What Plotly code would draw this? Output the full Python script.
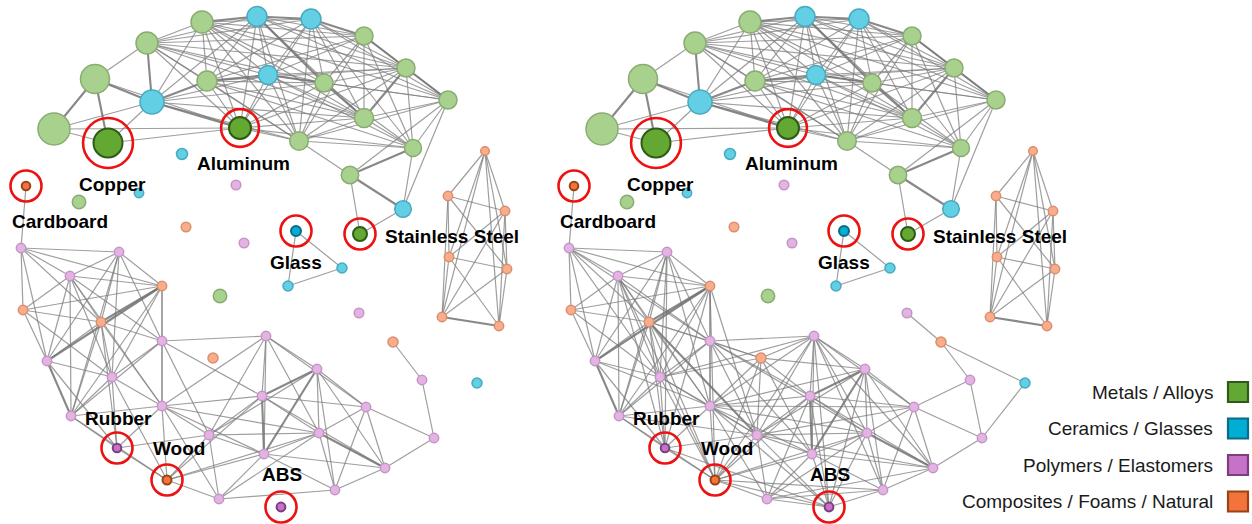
import plotly.graph_objects as go

# ---------------- material nodes (layout coordinates, y grows downward) ----------------
node_id = [
    "m1", "c1", "c2", "m2", "m3", "m4", "m5", "m6", "c3", "m7", "c4", "m8", "m9", "m10", "m11",
    "m12", "copper", "aluminum", "m13", "c5", "steel", "c6", "c7", "m14", "cardboard",
    "p1", "f1", "p2", "glass", "c8", "c9", "m15", "p3", "f2", "f3", "p4", "c10", "p5",
    "f4", "f5", "f6", "f7", "f8", "f9", "f10",
    "p6", "p7", "p8", "f11", "f12", "f13", "p9", "p10", "p11", "p12", "p13", "rubber", "wood",
    "p14", "p15", "p17", "p18", "p16", "p19", "p20", "p21", "p22", "p23", "abs",
]
node_x = [
    202, 257, 311, 147, 364, 406, 448, 95, 152, 207, 268, 324, 364, 299, 413,
    54, 108, 240, 350, 403, 360, 182, 139, 79, 26,
    236, 186, 244, 296, 342, 288, 220, 359, 213, 393, 422, 477, 434,
    485, 448, 505, 449, 507, 442, 499,
    21, 119, 70, 162, 23, 101, 162, 47, 112, 71, 162, 117, 167,
    209, 219, 266, 317, 262, 366, 319, 264, 385, 335, 281,
]
node_y = [
    22, 16.5, 19, 43, 36, 68, 100, 79, 102, 81, 75, 83, 118, 141, 148,
    129, 143, 128, 175, 209, 234, 154, 193, 202, 186,
    185, 227, 243, 231, 268, 286, 296, 313, 358, 342, 380, 383, 438,
    151, 196, 211, 257, 269, 317, 326,
    248, 252, 276, 286, 310, 322, 341, 361, 377, 416, 406, 448, 480,
    435, 499, 336, 369, 396, 407, 433, 454, 468, 490, 507,
]
# 0 metals, 1 ceramics, 2 polymers, 3 composites
node_group = [
    0, 1, 1, 0, 0, 0, 0, 0, 1, 0, 1, 0, 0, 0, 0,
    0, 0, 0, 0, 1, 0, 1, 1, 0, 3,
    2, 3, 2, 1, 1, 1, 0, 2, 3, 3, 2, 1, 2,
    3, 3, 3, 3, 3, 3, 3,
    2, 2, 2, 3, 3, 3, 2, 2, 2, 2, 2, 2, 3,
    2, 2, 2, 2, 2, 2, 2, 2, 2, 2, 2,
]
node_radius = [
    11, 10, 10, 11, 9, 9, 9, 14.5, 12, 10, 9.5, 9, 9.5, 9.3, 8.5,
    16, 14.5, 11, 8.7, 8.3, 7, 5.5, 4.7, 6.7, 4.3,
    4.8, 4.8, 4.8, 5, 5, 5, 6.7, 4.8, 5, 5, 4.7, 5, 4.7,
    4.3, 4.7, 4.7, 4.7, 4.7, 4.7, 4.7,
    4.7, 4.7, 4.7, 4.7, 4.7, 4.7, 4.7, 4.7, 4.7, 4.7, 4.7, 4.3, 4.5,
    4.7, 4.7, 4.7, 4.7, 4.7, 4.7, 4.7, 4.7, 4.7, 4.7, 4.4,
]

# highlighted materials
label_node = ["copper", "aluminum", "cardboard", "steel", "glass", "rubber", "wood", "abs"]
label_text = ["Copper", "Aluminum", "Cardboard", "Stainless Steel", "Glass", "Rubber", "Wood", "ABS"]

categories = ["Metals / Alloys", "Ceramics / Glasses", "Polymers / Elastomers",
              "Composites / Foams / Natural"]

# ---------------- links (":2" marks a strong link) ----------------
shared_links = {
    "m12": "m6:2 copper c3 aluminum",
    "m6": "m2 c3:2 copper:2 aluminum",
    "copper": "c3 aluminum",
    "c3": "m2:2 m1 m7:2 c4 aluminum:2 c1 m8 m9 m10",
    "m2": "m1 c1 m7 c4 m8 c2 m3 aluminum m9 m10 m4",
    "m1": "c1:2 c2 m7 c4 m8 m3 m4 m9 m10 aluminum m5",
    "c1": "c2:2 m7 c4 m8:2 m3 m4 m9 m10 aluminum m5",
    "c2": "m3:2 m4 m5 m7 c4 m8 m9 m10 aluminum m11",
    "m3": "m4:2 m5 c4 m8 m9 m10 m11 m7",
    "m4": "m5:2 c4 m8 m9:2 m10 m11 aluminum m7",
    "m5": "m8 m9 m11 c4 m10 c5 m13",
    "m7": "c4:2 m8 m9 m10 aluminum m11",
    "c4": "m8:2 m9 m10 aluminum m11",
    "m8": "m9:2 m10 aluminum m11",
    "m9": "m10 m11 aluminum",
    "m10": "m11 aluminum m13",
    "m11": "m13:2 c5 aluminum",
    "m13": "c5:2 steel",
    "c5": "steel",
    "glass": "c8 c9",
    "c8": "c9",
    "f3": "p4",
    "p4": "p5",
    "p5": "p19 p22",
    "f4": "f5 f6 f7 f8 f9 f10",
    "f5": "f6 f7 f8 f9",
    "f6": "f7 f8 f9 f10",
    "f7": "f8 f9 f10",
    "f8": "f9 f10",
    "f9": "f10:2",
    "cardboard": "p6",
    "p6": "p7 p8 f11 f12 p10 f13",
    "p7": "p8 f11 f13 p10 p11 p12 p9",
    "p8": "f11 f13 p10 p11 p12 f12 p9 p13",
    "f11": "f12 f13:2 p10:2 p9 p11 p12 p13",
    "f12": "p10 f13 p11",
    "f13": "p10 p11 p12 p9 p13 rubber",
    "p9": "p11 p13 p14 p17 p12 p16",
    "p10": "p11 p12:2 rubber",
    "p11": "p12 p13 rubber wood",
    "p12": "rubber wood p13",
    "p13": "rubber wood p14 p15 p17 p16 p21 p20",
    "rubber": "wood p14",
    "wood": "p14 p15 p20 p21 p16",
    "p14": "p17 p16 p21 p20 p15 p18",
    "p15": "p21 p23 p20",
    "p17": "p18 p16 p20 p21 p19",
    "p18": "p16:2 p19 p20 p21:2 p23 p22",
    "p16": "p21:2 p20 p19 p22",
    "p19": "p20 p22 p23",
    "p20": "p21 p22:2 p23",
    "p21": "p23 p22",
    "p22": "p23",
}
right_extra_links = {
    "p3": "f3",
    "f3": "c10",
    "c10": "p5",
    "p4": "p19",
    "f2": "p9 p13 p14 p17 p16 p11 f13 p21 p18 wood",
    "abs": "p21 p20 p16 p23 p18 p17 wood p15 p14 p13 rubber",
    "p6": "p11 p9",
    "p7": "rubber p13",
    "f11": "rubber wood p14",
    "p8": "rubber wood",
    "f13": "wood p14:2",
    "p9": "p20 p21",
    "p12": "p14",
    "p10": "p13",
    "p11": "p14 p17",
    "p13": "p18 p19",
    "p14": "p19 p22",
    "wood": "p23 p17",
    "p15": "p22 p16",
    "p17": "p22 p23",
}

# ---------------- styling ----------------
light_fill = ["#a9d18e", "#62cfe4", "#e3b3e3", "#f9ad8a"]
light_line = ["#8aac73", "#47aac0", "#c596c5", "#d98f6e"]
dark_fill = ["#62a832", "#00aed4", "#c572c8", "#f3743a"]
dark_line = ["#2f5a17", "#0b6a85", "#7b3f7e", "#9a4218"]
ring_color = "#ee1111"
font_family = "Liberation Sans, Arial, Helvetica, sans-serif"

# label placement relative to its node: (dx, dy, anchor)
label_offset = {
    "copper": (4, 41, "center"),
    "aluminum": (3.5, 35, "center"),
    "cardboard": (34, 35, "center"),
    "steel": (23, 2, "left"),
    "glass": (0, 31, "center"),
    "rubber": (1.5, -30, "center"),
    "wood": (12, -32, "center"),
    "abs": (0.5, -33, "center"),
}

W, H = 1252, 524
PANEL = 548
idx = {n: i for i, n in enumerate(node_id)}


def parse_links(table):
    out = {}
    for a, targets in table.items():
        for t in targets.split():
            b, _, w = t.partition(":")
            key = tuple(sorted((a, b)))
            out[key] = max(out.get(key, 1), int(w or 1))
    return out


left_links = parse_links(shared_links)
right_links = dict(left_links)
for k, w in parse_links(right_extra_links).items():
    right_links[k] = max(right_links.get(k, 1), w)

edge_style = {1: dict(width=1.2, color="rgba(125,125,125,0.75)"),
              2: dict(width=2.1, color="rgba(115,115,115,0.85)")}

fig = go.Figure()
annotations = []

for panel, (links, xa, ya) in enumerate([(left_links, "x", "y"), (right_links, "x2", "y2")]):
    for weight in (1, 2):
        ex, ey = [], []
        for (a, b), w in links.items():
            if w != weight:
                continue
            ia, ib = idx[a], idx[b]
            ex += [node_x[ia], node_x[ib], None]
            ey += [node_y[ia], node_y[ib], None]
        fig.add_trace(go.Scatter(x=ex, y=ey, mode="lines", line=edge_style[weight],
                                 hoverinfo="skip", showlegend=False, xaxis=xa, yaxis=ya))

    hl = set(label_node)
    fills, lines, sizes, widths = [], [], [], []
    for i, n in enumerate(node_id):
        g = node_group[i]
        if n in hl:
            fills.append(dark_fill[g]); lines.append(dark_line[g]); widths.append(2)
        else:
            fills.append(light_fill[g]); lines.append(light_line[g]); widths.append(1.5)
        sizes.append(2 * node_radius[i])
    fig.add_trace(go.Scatter(
        x=node_x, y=node_y, mode="markers", text=node_id, hoverinfo="text",
        marker=dict(size=sizes, color=fills, opacity=1,
                    line=dict(color=lines, width=widths)),
        showlegend=False, xaxis=xa, yaxis=ya))

    rx = [node_x[idx[n]] for n in label_node]
    ry = [node_y[idx[n]] for n in label_node]
    rs = [2 * max(15.5, 1.72 * node_radius[idx[n]]) for n in label_node]
    fig.add_trace(go.Scatter(
        x=rx, y=ry, mode="markers", hoverinfo="skip",
        marker=dict(symbol="circle-open", size=rs, color=ring_color, opacity=1,
                    line=dict(width=2.6)),
        showlegend=False, xaxis=xa, yaxis=ya))

    for n, t in zip(label_node, label_text):
        dx, dy, anchor = label_offset[n]
        annotations.append(dict(
            x=node_x[idx[n]] + dx, y=node_y[idx[n]] + dy, xref=xa, yref=ya,
            text=t, showarrow=False, xanchor=anchor, yanchor="middle",
            font=dict(family=font_family, size=19, color="#000000", weight="bold")))

# category key in the lower right corner
key_x, key_y0, key_step = 1238, 392, 36.5
key_y = [key_y0 + k * key_step for k in range(len(categories))]
fig.add_trace(go.Scatter(
    x=[key_x] * len(categories), y=key_y, mode="markers", hoverinfo="skip",
    marker=dict(symbol="square", size=20, color=dark_fill, opacity=1,
                line=dict(color=dark_line, width=2.2)),
    showlegend=False, xaxis="x3", yaxis="y3"))
for c, yy in zip(categories, key_y):
    annotations.append(dict(
        x=key_x - 23, y=yy, xref="x3", yref="y3", text=c, showarrow=False,
        xanchor="right", yanchor="middle",
        font=dict(family=font_family, size=19, color="#1a1a1a")))

hidden = dict(visible=False, showgrid=False, zeroline=False, fixedrange=True)
fig.update_layout(
    width=W, height=H, margin=dict(l=0, r=0, t=0, b=0),
    paper_bgcolor="white", plot_bgcolor="rgba(0,0,0,0)",
    xaxis=dict(domain=[0, PANEL / W], range=[0, PANEL], **hidden),
    yaxis=dict(domain=[0, 1], range=[H, 0], **hidden),
    xaxis2=dict(domain=[PANEL / W, 2 * PANEL / W], range=[0, PANEL], **hidden),
    yaxis2=dict(domain=[0, 1], range=[H, 0], anchor="x2", **hidden),
    xaxis3=dict(domain=[0, 1], range=[0, W], anchor="y3", **hidden),
    yaxis3=dict(domain=[0, 1], range=[H, 0], anchor="x3", **hidden),
    annotations=annotations,
    showlegend=False,
)

fig.write_html("out.html")
